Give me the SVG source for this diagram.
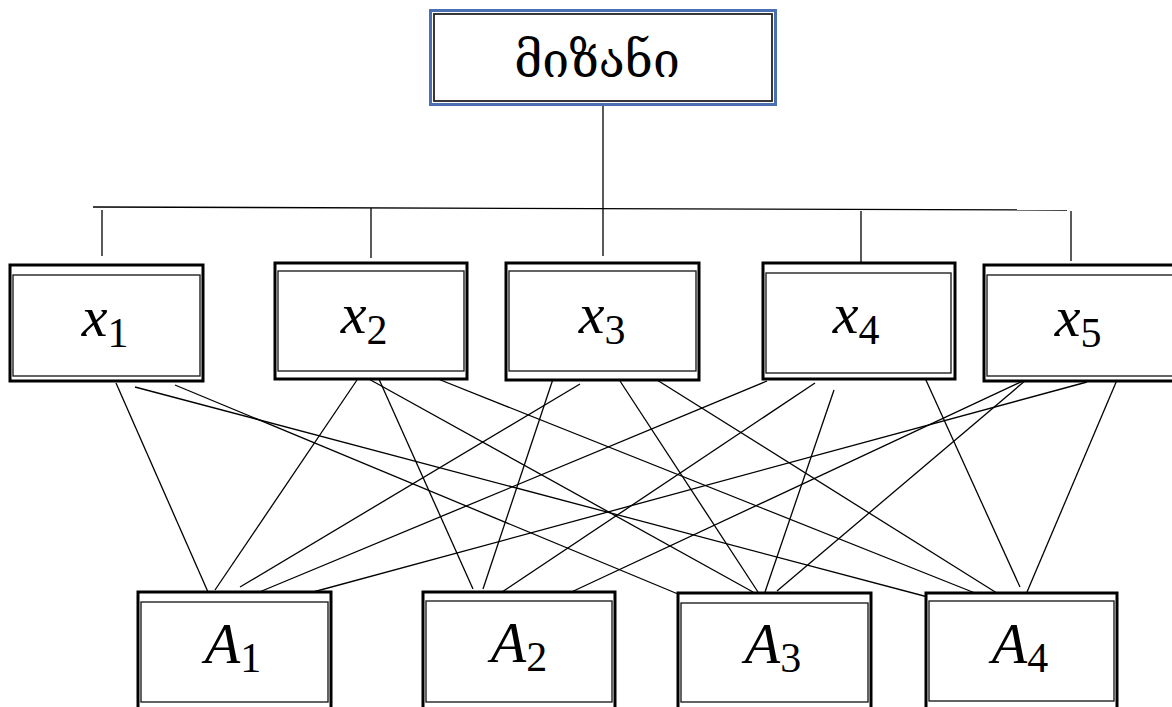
<svg xmlns="http://www.w3.org/2000/svg" width="1172" height="707" viewBox="0 0 1172 707">
<style>
.outer{fill:#fff;stroke:#000;stroke-width:3}
.inner{fill:none;stroke:#222;stroke-width:1.4}
.ln{stroke:#000;stroke-width:1.3;fill:none}
.lbl{font-family:"Liberation Serif","DejaVu Serif",serif;font-size:58px;fill:#000}
.it{font-style:italic}
.sub{font-size:42px}
.geo{font-family:"DejaVu Serif","DejaVu Sans",sans-serif;font-size:48px;fill:#000}
</style>
<rect width="1172" height="707" fill="#fff"/>
<g id="connectors">
<line class="ln" x1="603" y1="105" x2="603" y2="256"/>
<line class="ln" x1="93" y1="207" x2="1067" y2="210" stroke-width="1.6"/>
<line class="ln" x1="102" y1="210" x2="102" y2="256"/>
<line class="ln" x1="371" y1="208" x2="371" y2="258"/>
<line class="ln" x1="861" y1="211" x2="861" y2="262"/>
<line class="ln" x1="1071" y1="211" x2="1071" y2="261"/>
<line class="ln" x1="116" y1="383" x2="208" y2="592"/>
<line class="ln" x1="175" y1="385" x2="678" y2="594"/>
<line class="ln" x1="135" y1="387" x2="943" y2="601"/>
<line class="ln" x1="357" y1="380" x2="215" y2="590"/>
<line class="ln" x1="378" y1="377" x2="473" y2="589"/>
<line class="ln" x1="367" y1="378" x2="753" y2="592"/>
<line class="ln" x1="433" y1="377" x2="985" y2="597"/>
<line class="ln" x1="580" y1="384" x2="240" y2="587"/>
<line class="ln" x1="554" y1="376" x2="483" y2="589"/>
<line class="ln" x1="620" y1="381" x2="758" y2="592"/>
<line class="ln" x1="657" y1="380" x2="1000" y2="595"/>
<line class="ln" x1="767" y1="381" x2="257" y2="593"/>
<line class="ln" x1="815" y1="383" x2="502" y2="592"/>
<line class="ln" x1="834" y1="390" x2="765" y2="592"/>
<line class="ln" x1="925" y1="378" x2="1020" y2="587"/>
<line class="ln" x1="1087" y1="382" x2="302" y2="595"/>
<line class="ln" x1="1025" y1="380" x2="565" y2="595"/>
<line class="ln" x1="1026" y1="380" x2="777" y2="591"/>
<line class="ln" x1="1117" y1="380" x2="1027" y2="592"/>
</g>
<g id="goal">
<rect x="430.5" y="10.5" width="345" height="94" fill="#fff" stroke="#4a6fb3" stroke-width="3"/>
<rect x="434" y="14" width="338" height="87" fill="none" stroke="#222" stroke-width="1.8"/>
<text class="geo" x="597" y="77" text-anchor="middle">მიზანი</text>
</g>
<g id="x1">
<rect class="outer" x="10" y="265" width="193" height="116"/>
<rect class="inner" x="13" y="275" width="187" height="101"/>
<text class="lbl" x="105" y="336" text-anchor="middle"><tspan class="it">x</tspan><tspan class="sub" dy="11">1</tspan></text>
</g>
<g id="x2">
<rect class="outer" x="275" y="263" width="192" height="116"/>
<rect class="inner" x="278" y="271" width="186" height="100"/>
<text class="lbl" x="364" y="333" text-anchor="middle"><tspan class="it">x</tspan><tspan class="sub" dy="11">2</tspan></text>
</g>
<g id="x3">
<rect class="outer" x="506" y="263" width="193" height="117"/>
<rect class="inner" x="509" y="271" width="187" height="100"/>
<text class="lbl" x="602" y="333" text-anchor="middle"><tspan class="it">x</tspan><tspan class="sub" dy="11">3</tspan></text>
</g>
<g id="x4">
<rect class="outer" x="763" y="263" width="192" height="116"/>
<rect class="inner" x="766" y="273" width="185" height="100"/>
<text class="lbl" x="856" y="333" text-anchor="middle"><tspan class="it">x</tspan><tspan class="sub" dy="11">4</tspan></text>
</g>
<g id="x5">
<rect class="outer" x="984" y="265" width="194" height="116"/>
<rect class="inner" x="987" y="275" width="188" height="101"/>
<text class="lbl" x="1078" y="336" text-anchor="middle"><tspan class="it">x</tspan><tspan class="sub" dy="11">5</tspan></text>
</g>
<g id="A1">
<rect class="outer" x="138" y="592" width="193" height="117"/>
<rect class="inner" x="141" y="602" width="187" height="100"/>
<text class="lbl" x="233" y="663" text-anchor="middle"><tspan class="it">A</tspan><tspan class="sub" dy="9">1</tspan></text>
</g>
<g id="A2">
<rect class="outer" x="423" y="592" width="192" height="117"/>
<rect class="inner" x="426" y="601" width="186" height="101"/>
<text class="lbl" x="519" y="662" text-anchor="middle"><tspan class="it">A</tspan><tspan class="sub" dy="9">2</tspan></text>
</g>
<g id="A3">
<rect class="outer" x="678" y="593" width="193" height="116"/>
<rect class="inner" x="681" y="603" width="187" height="99"/>
<text class="lbl" x="773" y="663" text-anchor="middle"><tspan class="it">A</tspan><tspan class="sub" dy="9">3</tspan></text>
</g>
<g id="A4">
<rect class="outer" x="926" y="593" width="191" height="116"/>
<rect class="inner" x="929" y="601" width="185" height="100"/>
<text class="lbl" x="1020" y="663" text-anchor="middle"><tspan class="it">A</tspan><tspan class="sub" dy="9">4</tspan></text>
</g>
</svg>
